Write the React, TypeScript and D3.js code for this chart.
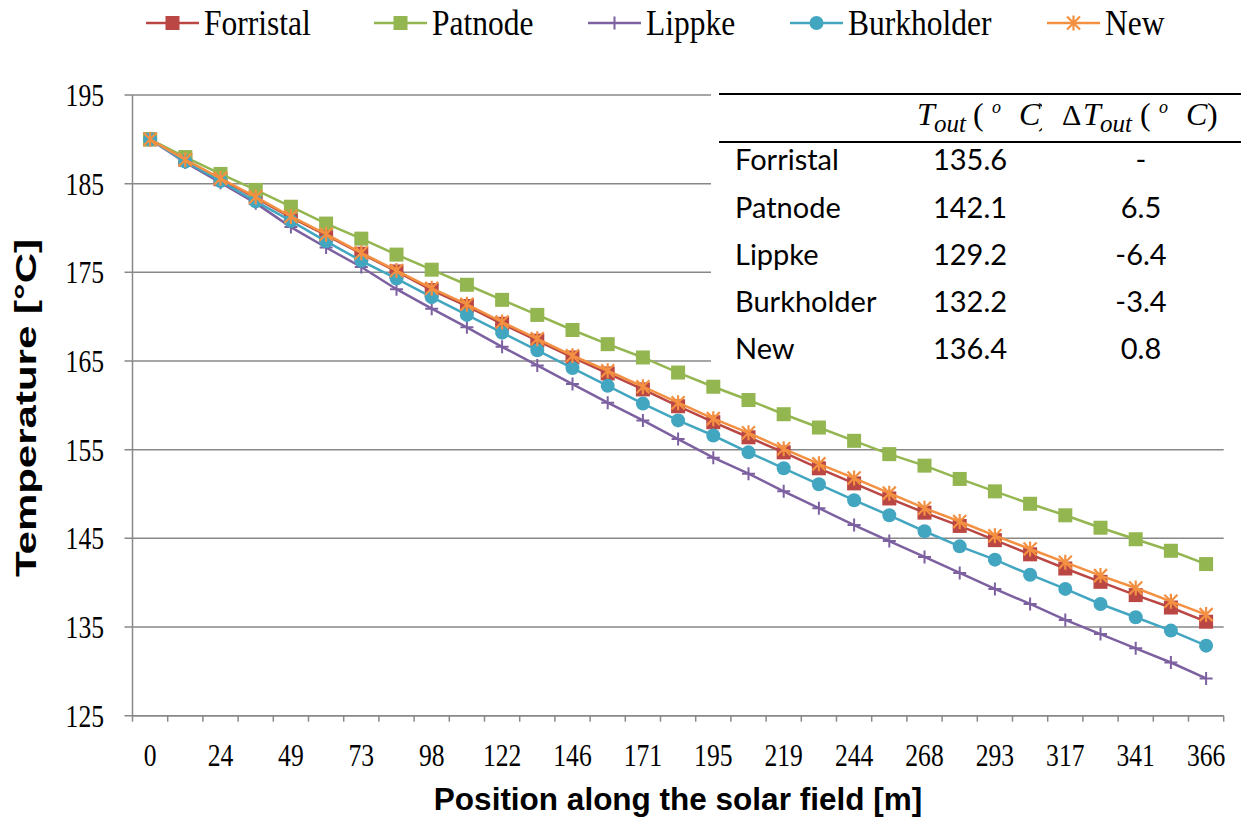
import React from "react";
import * as d3 from "d3";

// positions along the field (m), one per node
const positions = ["0", "12", "24", "37", "49", "61", "73", "85", "98", "110", "122", "134", "146", "159", "171", "183",
    "195", "207", "219", "232", "244", "256", "268", "280", "293", "305", "317", "329", "341", "354", "366"]

const forristal = [190, 187.7, 185.5, 183.4, 181.2, 179.2, 177.1, 175.1, 173.0, 171.2, 169.2, 167.3, 165.4, 163.6, 161.8, 159.9,
    158.1, 156.4, 154.7, 152.9, 151.2, 149.5, 147.9, 146.4, 144.8, 143.2, 141.6, 140.1, 138.6, 137.2, 135.6]
const patnode = [190, 188.0, 186.1, 184.3, 182.4, 180.5, 178.8, 177.0, 175.3, 173.6, 171.9, 170.2, 168.5, 166.9, 165.4, 163.7,
    162.1, 160.6, 159.0, 157.5, 156.0, 154.5, 153.2, 151.7, 150.3, 148.9, 147.6, 146.2, 144.9, 143.6, 142.1]
const lippke = [190, 187.4, 185.1, 182.8, 180.1, 177.8, 175.6, 173.1, 170.9, 168.8, 166.6, 164.5, 162.4, 160.3, 158.3, 156.2,
    154.1, 152.3, 150.3, 148.4, 146.5, 144.7, 142.9, 141.1, 139.3, 137.6, 135.8, 134.2, 132.6, 131.0, 129.2]
const burkholder = [190, 187.5, 185.3, 183.0, 180.8, 178.5, 176.3, 174.3, 172.2, 170.2, 168.2, 166.2, 164.2, 162.2, 160.2, 158.3,
    156.6, 154.7, 152.9, 151.1, 149.3, 147.6, 145.8, 144.1, 142.6, 140.9, 139.3, 137.6, 136.1, 134.6, 132.9]
const newModel = [190, 187.7, 185.6, 183.5, 181.3, 179.3, 177.2, 175.2, 173.2, 171.4, 169.4, 167.5, 165.6, 163.9, 162.1, 160.3,
    158.5, 156.9, 155.1, 153.4, 151.8, 150.1, 148.4, 146.9, 145.3, 143.8, 142.3, 140.8, 139.4, 137.9, 136.4]

const yTicks = [125, 135, 145, 155, 165, 175, 185, 195]

// summary table
const tableNames = ["Forristal", "Patnode", "Lippke", "Burkholder", "New"]
const tableTout = ["135.6", "142.1", "129.2", "132.2", "136.4"]
const tableDelta = ["-", "6.5", "-6.4", "-3.4", "0.8"]

const series = [
    {name: "Forristal", values: forristal, color: "#BA4744", marker: "square"},
    {name: "Patnode", values: patnode, color: "#93B650", marker: "square"},
    {name: "Lippke", values: lippke, color: "#7D60A0", marker: "plus"},
    {name: "Burkholder", values: burkholder, color: "#43A6C1", marker: "circle"},
    {name: "New", values: newModel, color: "#F39041", marker: "star"},
]

const W = 1241
const H = 819
const left = 132.5
const right = 1223.7
const top = 95
const bottom = 715.7

const serif = "'Liberation Serif', 'Times New Roman', serif"
const sans = "'Liberation Sans', Arial, sans-serif"
const calibri = "Lato, 'Open Sans', sans-serif"

const Marker = ({type, x, y, color}: { type: string, x: number, y: number, color: string }) => {
    if (type === "square") return <rect x={x - 7} y={y - 7} width={14} height={14} fill={color}/>
    if (type === "circle") return <circle cx={x} cy={y} r={7} fill={color}/>
    if (type === "plus") return <path d={`M${x - 6.5},${y}H${x + 6.5}M${x},${y - 6.5}V${y + 6.5}`} stroke={color} strokeWidth={2}/>
    // asterisk
    return <path d={`M${x},${y - 7.5}V${y + 7.5}M${x - 6.5},${y - 6.5}L${x + 6.5},${y + 6.5}M${x - 6.5},${y + 6.5}L${x + 6.5},${y - 6.5}`}
                 stroke={color} strokeWidth={2.2}/>
}

// header like "T_out(° C)" in math style, x positions are per glyph
const MathHeader = ({xs, delta}: { xs: number[], delta: boolean }) => {
    const b = 125
    let k = 0
    return (
        <text fontFamily={serif} fontSize={32} fill="#000">
            {delta ? <tspan x={xs[k++]} y={b} fontSize={30}>Δ</tspan> : null}
            <tspan x={xs[k++]} y={b} fontStyle="italic">T</tspan>
            <tspan x={xs[k++]} y={b + 7} fontSize={25} fontStyle="italic">out</tspan>
            <tspan x={xs[k++]} y={b}>(</tspan>
            <tspan x={xs[k++]} y={b - 12} fontSize={18} fontStyle="italic">o</tspan>
            <tspan x={xs[k++]} y={b} fontStyle="italic">C</tspan>
            <tspan x={xs[k++]} y={b}>)</tspan>
        </text>
    )
}

const App = () => {
    const xBand = d3.scaleBand<number>()
        .domain(d3.range(positions.length))
        .range([left, right])
        .padding(0)
    const xc = (i: number) => (xBand(i) as number) + xBand.bandwidth() / 2

    const y = d3.scaleLinear().domain([125, 195]).range([bottom, top])

    const line = d3.line<number>()
        .x((d, i) => xc(i))
        .y(d => y(d))

    const legendX = [146, 374, 588, 790, 1047]
    const rowY = [160, 208, 255, 302, 349]

    return (
        <svg width={W} height={H} style={{position: "absolute", left: 0, top: 0}} fontFamily={serif}>
            <rect width={W} height={H} fill="#fff"/>

            {/* gridlines */}
            {yTicks.map(t => (
                <g key={t}>
                    <line x1={left - 8} x2={right} y1={y(t)} y2={y(t)} stroke="#888" strokeWidth={1.5}/>
                    <g transform={`translate(104,${y(t) + 11}) scale(0.8,1)`}>
                        <text textAnchor="end" fontSize={32} fill="#000">{t}</text>
                    </g>
                </g>
            ))}

            {/* axes */}
            <line x1={left} x2={left} y1={top} y2={bottom} stroke="#888" strokeWidth={1.5}/>
            <line x1={left} x2={right} y1={bottom} y2={bottom} stroke="#888" strokeWidth={1.5}/>
            {d3.range(positions.length + 1).map(i => {
                const tx = left + i * xBand.bandwidth()
                return <line key={i} x1={tx} x2={tx} y1={bottom} y2={bottom + 6} stroke="#888" strokeWidth={1.5}/>
            })}
            {positions.map((p, i) => i % 2 === 0 ? (
                <g key={p} transform={`translate(${xc(i)},766) scale(0.8,1)`}>
                    <text textAnchor="middle" fontSize={32} fill="#000">{p}</text>
                </g>
            ) : null)}

            {/* table box, hides the grid behind it */}
            <rect x={711} y={84} width={W - 711} height={292} fill="#fff"/>
            <line x1={719} x2={W} y1={94} y2={94} stroke="#000" strokeWidth={2.2}/>
            <line x1={719} x2={W} y1={142} y2={142} stroke="#000" strokeWidth={2.2}/>
            <defs>
                <clipPath id="hdr1">
                    <rect x={900} y={95} width={142} height={46}/>
                </clipPath>
            </defs>
            <g clipPath="url(#hdr1)">
                <MathHeader delta={false} xs={[917, 934, 973, 992, 1019, 1038]}/>
            </g>
            <MathHeader delta={true} xs={[1062, 1083, 1100, 1140, 1159, 1186, 1207]}/>
            {tableNames.map((n, i) => (
                <g key={n} fontFamily={calibri} fontSize={29} fill="#000">
                    <text x={735} y={rowY[i] + 10}>{n}</text>
                    <text x={970} y={rowY[i] + 10} textAnchor="middle">{tableTout[i]}</text>
                    <text x={1141} y={rowY[i] + 10} textAnchor="middle">{tableDelta[i]}</text>
                </g>
            ))}

            {/* series */}
            {series.map(s => (
                <g key={s.name}>
                    <path d={line(s.values) as string} fill="none" stroke={s.color} strokeWidth={2.5}/>
                    {s.values.map((v, i) => <Marker key={i} type={s.marker} x={xc(i)} y={y(v)} color={s.color}/>)}
                </g>
            ))}

            {/* legend */}
            {series.map((s, i) => (
                <g key={s.name}>
                    <line x1={legendX[i]} x2={legendX[i] + 53} y1={23} y2={23} stroke={s.color} strokeWidth={2.5}/>
                    <Marker type={s.marker} x={legendX[i] + 26.5} y={23} color={s.color}/>
                    <g transform={`translate(${legendX[i] + 58},35) scale(0.9,1)`}>
                        <text fontSize={35} fill="#000">{s.name}</text>
                    </g>
                </g>
            ))}

            {/* axis titles */}
            <g transform="translate(36,408) rotate(-90) scale(1.4,1)">
                <text textAnchor="middle" fontFamily={sans} fontWeight="bold" fontSize={30} fill="#000">Temperature [°C]</text>
            </g>
            <text x={678} y={810} textAnchor="middle" fontFamily={sans} fontWeight="bold" fontSize={31.5}
                  fill="#000">Position along the solar field [m]</text>
        </svg>
    )
}

export default App
